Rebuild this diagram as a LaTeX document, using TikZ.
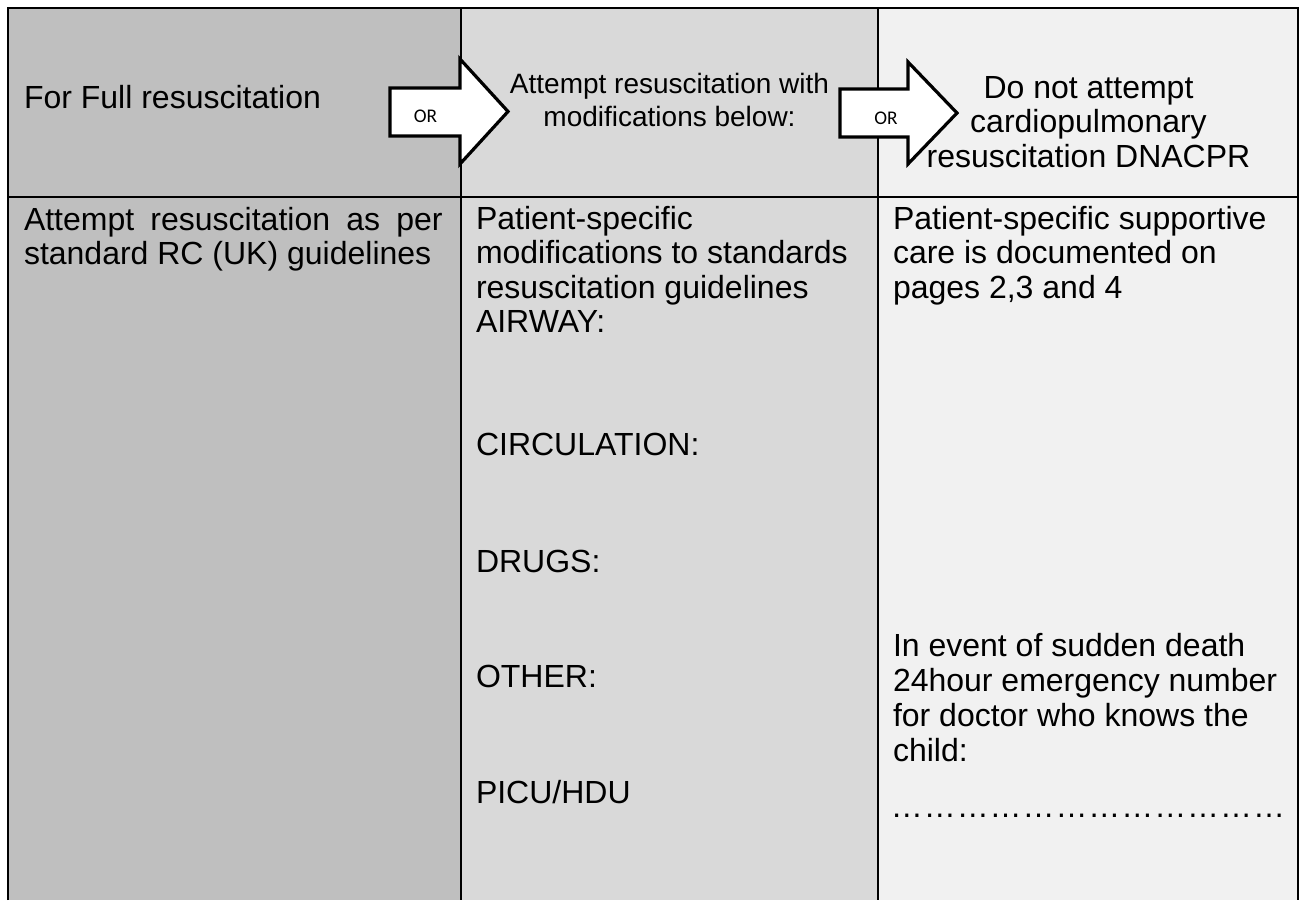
\documentclass[tikz,border=0pt]{standalone}
\usepackage{fontspec}
\setmainfont{Liberation Sans}
\newfontfamily\orfont{Carlito}
\definecolor{colA}{RGB}{191,191,191}
\definecolor{colB}{RGB}{217,217,217}
\definecolor{colC}{RGB}{241,241,241}
\begin{document}
\begin{tikzpicture}[x=0.75pt,y=-0.75pt,
  txt/.style={inner sep=0pt,outer sep=0pt,font=\fontsize{24pt}{26pt}\selectfont},
  smalltxt/.style={inner sep=0pt,outer sep=0pt,font=\fontsize{21pt}{23pt}\selectfont,anchor=base},
  lt/.style={txt,anchor=base west},
  ct/.style={txt,anchor=base},
  ortxt/.style={inner sep=0pt,font=\orfont\fontsize{14.5pt}{16pt}\selectfont},
  border/.style={line width=2.2pt},
  grid/.style={line width=1.5pt},
  arrowshape/.style={draw=black,fill=white,line width=2.4pt,line join=miter}]
\useasboundingbox (0,0) rectangle (1302,900);
\fill[white] (0,0) rectangle (1302,900);
% columns
\fill[colA] (8,8) rectangle (461,900);
\fill[colB] (461,8) rectangle (878,900);
\fill[colC] (878,8) rectangle (1298,900);
% grid lines
\draw[grid] (461,8) -- (461,900);
\draw[grid] (878,8) -- (878,900);
\draw[grid] (8,197) -- (1298,197);
\draw[border] (8,900) -- (8,8) -- (1298,8) -- (1298,900);
% header row text
\node[lt] (h1) at (24,108) {For Full resuscitation};
\node[smalltxt] (h2a) at (669.5,93) {Attempt resuscitation with};
\node[smalltxt] (h2b) at (669.5,126) {modifications below:};
\node[ct] (h3a) at (1088.5,98) {Do not attempt};
\node[ct] (h3b) at (1088.5,132.5) {cardiopulmonary};
\node[ct] (h3c) at (1088.5,167) {resuscitation DNACPR};
% arrows
\draw[arrowshape] (390,88) -- (460,88) -- (460,59) -- (508,111.5) -- (460,164) -- (460,136) -- (390,136) -- cycle;
\draw[arrowshape] (840,89) -- (908,89) -- (908,62) -- (957,113) -- (908,164) -- (908,137) -- (840,137) -- cycle;
\node[ortxt] (or1) at (425.5,116.5) {OR};
\node[ortxt] (or2) at (886,118) {OR};
% column 1
\node[lt] (a1) at (24,230) {\makebox[314pt][s]{Attempt resuscitation as per}};
\node[lt] (a2) at (24,264.5) {standard RC (UK) guidelines};
% column 2
\node[lt] (b1) at (476,229) {Patient-specific};
\node[lt] (b2) at (476,263.5) {modifications to standards};
\node[lt] (b3) at (476,298) {resuscitation guidelines};
\node[lt] (b4) at (476,332.5) {AIRWAY:};
\node[lt] (b5) at (476,455) {CIRCULATION:};
\node[lt] (b6) at (476,572) {DRUGS:};
\node[lt] (b7) at (476,687) {OTHER:};
\node[lt] (b8) at (476,803) {PICU/HDU};
% column 3
\node[lt] (c1) at (893,229) {Patient-specific supportive};
\node[lt] (c2) at (893,263.5) {care is documented on};
\node[lt] (c3) at (893,298) {pages 2,3 and 4};
\node[lt] (c4) at (893,656) {In event of sudden death};
\node[lt] (c5) at (893,691) {24hour emergency number};
\node[lt] (c6) at (893,726) {for doctor who knows the};
\node[lt] (c7) at (893,761) {child:};
\node[lt] (c8) at (890,817) {\hbox to 297pt{\xleaders\hbox{…}\hfill}};
\end{tikzpicture}
\end{document}
